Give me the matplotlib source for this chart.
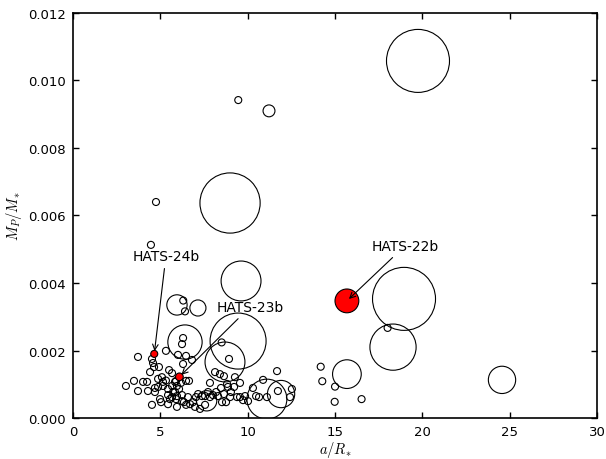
import matplotlib
matplotlib.use('Agg')
import matplotlib.pyplot as plt
import numpy as np

plt.rcParams['mathtext.fontset'] = 'cm'
plt.rcParams['font.family'] = 'DejaVu Sans'

# ─── Data ───
# small planets: a/R*, Mp/M*
small_a = [3.03, 3.49, 3.72, 3.72, 4.01, 4.24, 4.29, 4.41, 4.52, 4.58, 4.64, 4.69, 4.87, 4.52,
           4.92, 5.09, 5.32, 5.15, 5.15, 5.50, 5.67, 5.67, 5.73, 5.84, 5.55, 4.98, 5.04, 5.44,
           5.90, 6.01, 6.47, 6.81, 6.30, 6.18, 6.47, 6.64, 6.07, 6.24, 5.95, 6.35, 6.58, 6.70,
           6.87, 7.04, 7.16, 7.38, 7.56, 7.73, 7.84, 7.56, 7.27, 6.98, 6.47, 8.01, 8.19, 8.30,
           8.47, 8.64, 8.76, 8.53, 8.87, 8.99, 9.04, 9.22, 9.27, 9.56, 8.93, 9.39, 9.56, 9.73,
           9.85, 10.02, 10.30, 10.48, 10.65, 10.88, 11.10, 11.68, 11.73, 12.42, 12.53, 6.30, 6.24,
           6.31, 6.41, 8.51, 4.87, 5.32, 5.44, 5.90, 5.95, 5.84, 4.69, 5.44, 5.67, 5.95, 6.24,
           8.13, 8.41, 8.64, 8.82, 7.84,
           4.46, 4.75, 9.46, 14.18, 14.27, 15.00, 14.98, 16.52, 18.01]
small_m = [0.00095, 0.00110, 0.00080, 0.00181, 0.00107, 0.00107, 0.00080, 0.00136, 0.00175,
           0.00163, 0.00151, 0.00089, 0.00092, 0.00039, 0.00151, 0.00121, 0.00199, 0.00107,
           0.00095, 0.00142, 0.00133, 0.00095, 0.00077, 0.00107, 0.00056, 0.00056, 0.00047,
           0.00041, 0.00056, 0.00187, 0.00184, 0.00172, 0.00160, 0.00104, 0.00110, 0.00110,
           0.00086, 0.00068, 0.00033, 0.00047, 0.00062, 0.00041, 0.00047, 0.00062, 0.00071,
           0.00065, 0.00065, 0.00077, 0.00062, 0.00039, 0.00027, 0.00033, 0.00039, 0.00068,
           0.00077, 0.00065, 0.00089, 0.00071, 0.00047, 0.00047, 0.00092, 0.00062, 0.00077,
           0.00092, 0.00121, 0.00104, 0.00175, 0.00062, 0.00062, 0.00053, 0.00065, 0.00050,
           0.00089, 0.00065, 0.00062, 0.00113, 0.00062, 0.00139, 0.00080, 0.00062, 0.00086,
           0.00237, 0.00219, 0.00348, 0.00316, 0.00224, 0.00116, 0.00111, 0.00086, 0.00110,
           0.00095, 0.00077, 0.00077, 0.00068, 0.00062, 0.00065, 0.00050,
           0.00136, 0.00130, 0.00124, 0.00101, 0.00104,
           0.00513, 0.00640, 0.00942, 0.00152, 0.00109, 0.00093, 0.00048, 0.00056, 0.00267]

# larger planets: a/R*, Mp/M*, relative marker radius (small planet = 1)
big_a = [19.75, 8.99, 9.62, 18.95, 18.32, 9.45, 8.70, 6.41, 5.95, 7.15, 15.68, 24.56,
         11.10, 11.91, 11.22, 7.65]
big_m = [0.01058, 0.00637, 0.00406, 0.00353, 0.00210, 0.00228, 0.00166, 0.00225, 0.00335,
         0.00326, 0.00130, 0.00113, 0.00056, 0.00071, 0.00910, 0.00051]
big_r = [9.0, 8.6, 5.7, 9.0, 6.6, 8.0, 5.7, 4.9, 2.9, 2.3, 4.1, 3.9, 5.7, 3.9, 1.7, 2.9]

# new HATS planets
hats_names = ['HATS-24b', 'HATS-23b', 'HATS-22b']
hats_a = [4.65, 6.09, 15.68]
hats_m = [0.00190, 0.00122, 0.00347]
hats_r = [1.0, 1.1, 3.4]
label_a = [5.32, 10.13, 19.0]
label_m = [0.00480, 0.00329, 0.00510]


def size(r):
    return (5.04 * np.asarray(r, dtype=float)) ** 2


fig = plt.figure(figsize=(6.06, 4.60), dpi=100)
ax = fig.add_axes([0.1205, 0.0891, 0.8647, 0.8805])

ax.scatter(small_a, small_m, s=size(np.ones(len(small_a))), facecolors='none',
           edgecolors='black', linewidths=0.8)
ax.scatter(big_a, big_m, s=size(big_r), facecolors='none', edgecolors='black', linewidths=0.8)
ax.scatter(hats_a, hats_m, s=size(hats_r), facecolors='red', edgecolors='black',
           linewidths=0.8, zorder=3)

for name, x, y, tx, ty in zip(hats_names, hats_a, hats_m, label_a, label_m):
    ax.annotate(name, xy=(x, y), xytext=(tx, ty), ha='center', va='center', fontsize=10,
                arrowprops=dict(arrowstyle='->', color='black', lw=0.8))

ax.set_xlim(0, 30)
ax.set_ylim(0, 0.012)
ax.set_xticks(np.arange(0, 31, 5))
ax.set_yticks(np.arange(0, 0.0121, 0.002))
ax.yaxis.set_major_formatter(matplotlib.ticker.FormatStrFormatter('%.3f'))
ax.tick_params(direction='in', top=True, right=True, length=4, width=1, labelsize=9.5, pad=5)
for sp in ax.spines.values():
    sp.set_linewidth(1.2)

ax.set_xlabel(r'$a/R_{*}$', fontsize=10.5, labelpad=1)
ax.set_ylabel(r'$M_{P}/M_{*}$', fontsize=10.5, labelpad=3)

fig.savefig('out.png', dpi=100)
